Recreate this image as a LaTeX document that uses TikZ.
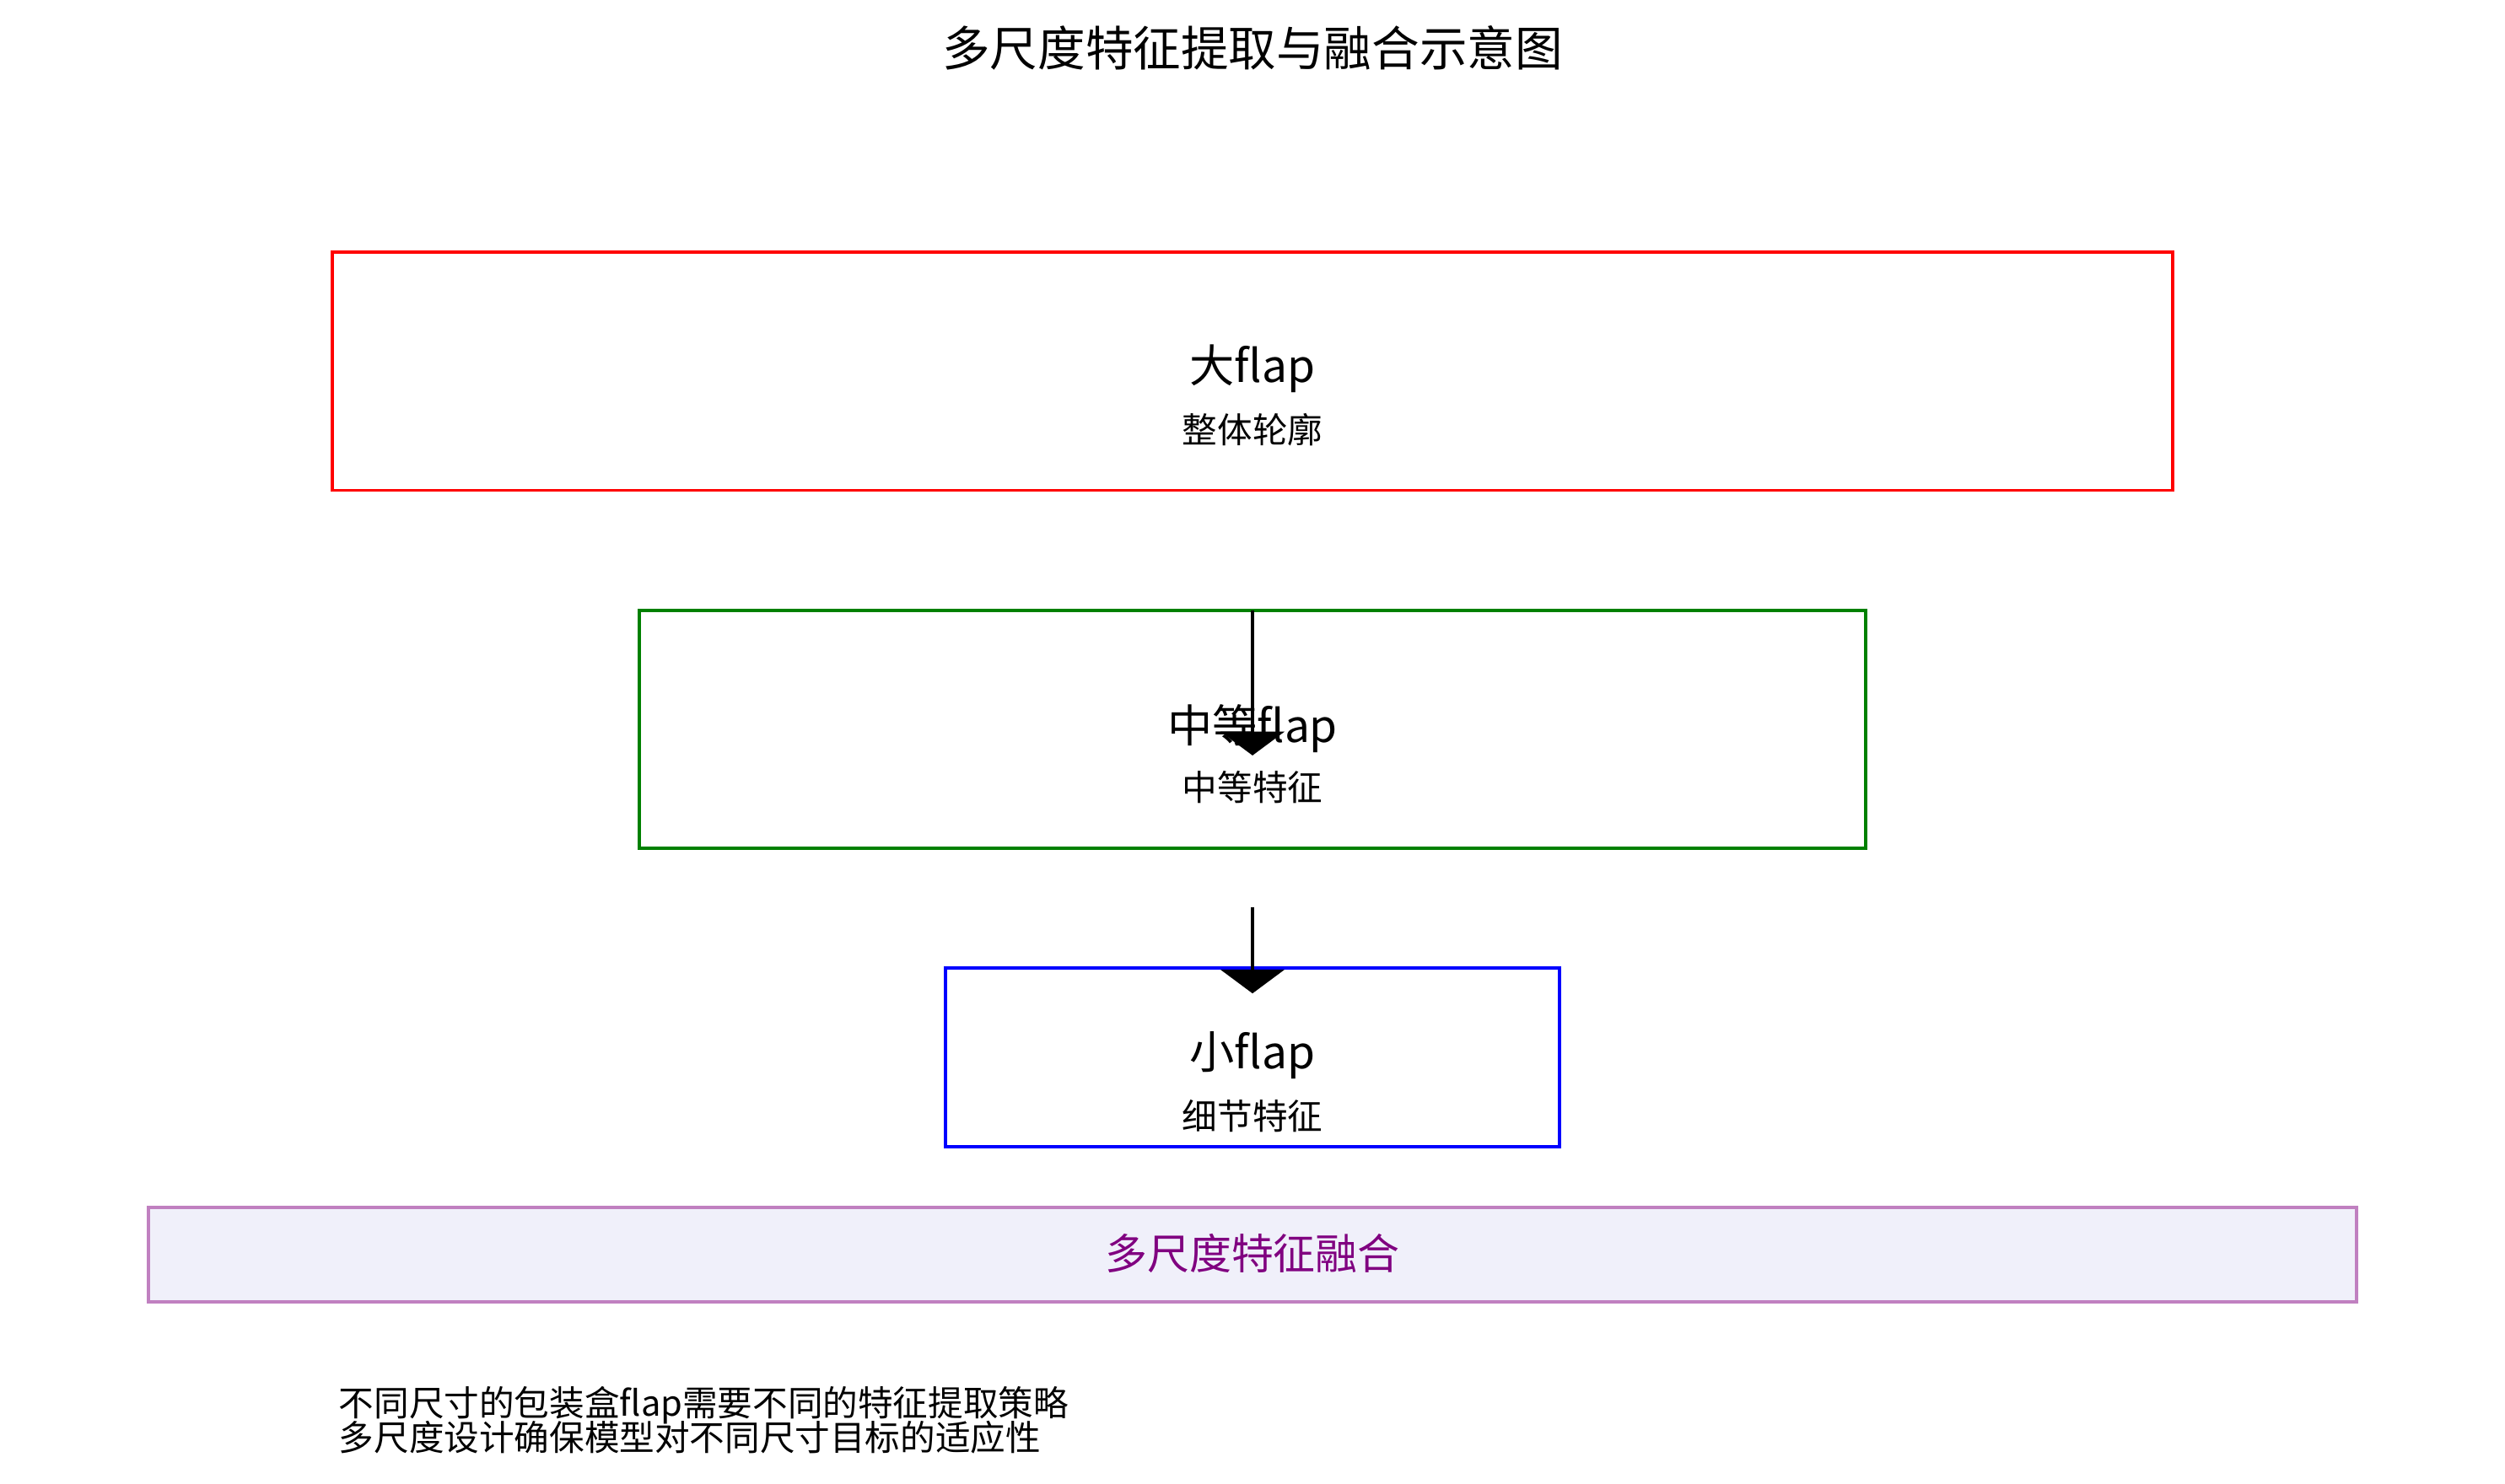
\documentclass[tikz,border=0pt]{standalone}
\usepackage{fontspec}
\setmainfont{Noto Sans CJK SC}
\usetikzlibrary{arrows.meta}
\definecolor{fusfill}{HTML}{F0F0FA}
\definecolor{fusline}{HTML}{C080C0}
\definecolor{fustext}{HTML}{800080}
\definecolor{dgreen}{HTML}{008000}
\tikzset{
  box/.style={draw, line width=1.2pt},
  main/.style={font=\fontsize{16}{18}\selectfont},
  sub/.style={font=\fontsize{12.5}{14}\selectfont},
  arr/.style={line width=1.2pt, -{Triangle[width=0.8cm,length=0.3cm]}},
}
\begin{document}
\begin{tikzpicture}[x=0.02cm,y=-0.02cm]
\useasboundingbox (0,0) rectangle (1568,929);
\node[font=\fontsize{17}{20}\selectfont] (title) at (784,30) {多尺度特征提取与融合示意图};
\draw[box, red] (208,158) rectangle (1360,307);
\node[main] (l1) at (784,231) {大flap};
\node[sub] (l2) at (784,269) {整体轮廓};
\draw[box, dgreen] (400,382) rectangle (1168,531);
\node[main] (m1) at (784,456) {中等flap};
\node[sub] (m2) at (784,493) {中等特征};
\draw[box, blue] (592,606) rectangle (976,718);
\node[main] (s1) at (784,661) {小flap};
\node[sub] (s2) at (784,699) {细节特征};
\coordinate (a1s) at (784,382);
\coordinate (a1e) at (784,473);
\coordinate (a2s) at (784,568);
\coordinate (a2e) at (784,622);
\draw[arr] (a1s) -- (a1e);
\draw[arr] (a2s) -- (a2e);
\draw[line width=1.2pt, draw=fusline, fill=fusfill] (93,756) rectangle (1475,815);
\node[font=\fontsize{15}{18}\selectfont, text=fustext] (fus) at (784,785) {多尺度特征融合};
\node[sub, anchor=west] (n1) at (206,880) {不同尺寸的包装盒flap需要不同的特征提取策略};
\node[sub, anchor=west] (n2) at (206,900) {多尺度设计确保模型对不同尺寸目标的适应性};
\end{tikzpicture}
\end{document}
